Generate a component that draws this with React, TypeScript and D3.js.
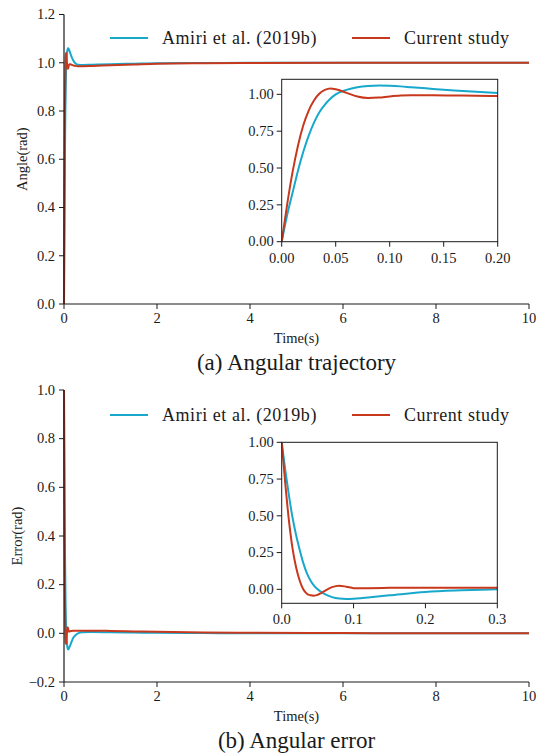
import React from 'react';
import * as d3 from 'd3';

// time grid for the angle response (s)
const timeAngle = [0, 0.005, 0.01, 0.015, 0.02, 0.025, 0.03, 0.035, 0.04, 0.045, 0.05, 0.06, 0.07, 0.08, 0.09, 0.1, 0.11, 0.12, 0.14, 0.16, 0.18, 0.2, 0.25, 0.3, 0.4, 0.6, 1, 1.5, 2, 3, 4, 6, 8, 10];
const amiriAngle = [0, 0.18, 0.33, 0.48, 0.61, 0.72, 0.81, 0.88, 0.93, 0.97, 1.0, 1.03, 1.048, 1.057, 1.06, 1.058, 1.054, 1.048, 1.037, 1.026, 1.017, 1.009, 0.997, 0.992, 0.991, 0.992, 0.994, 0.996, 0.998, 0.999, 1, 1, 1, 1];
const currentAngle = [0, 0.25, 0.47, 0.65, 0.79, 0.89, 0.96, 1.005, 1.03, 1.04, 1.035, 1.01, 0.985, 0.975, 0.978, 0.986, 0.992, 0.994, 0.994, 0.992, 0.99, 0.989, 0.987, 0.986, 0.986, 0.987, 0.99, 0.993, 0.996, 0.998, 0.999, 1, 1, 1];

// time grid for the error response (s)
const timeError = [0, 0.005, 0.01, 0.015, 0.02, 0.025, 0.03, 0.035, 0.04, 0.045, 0.05, 0.055, 0.06, 0.07, 0.08, 0.09, 0.1, 0.11, 0.12, 0.15, 0.2, 0.25, 0.3, 0.4, 0.6, 1, 1.5, 2, 3, 4, 6, 8, 10];
const amiriError = [1, 0.81, 0.64, 0.49, 0.37, 0.27, 0.18, 0.11, 0.06, 0.025, 0.0, -0.018, -0.033, -0.053, -0.063, -0.066, -0.064, -0.06, -0.055, -0.041, -0.018, -0.007, 0.0, 0.004, 0.005, 0.004, 0.003, 0.002, 0.001, 0, 0, 0, 0];
const currentError = [1, 0.72, 0.47, 0.28, 0.15, 0.06, 0.0, -0.03, -0.04, -0.043, -0.038, -0.025, -0.01, 0.015, 0.025, 0.018, 0.008, 0.007, 0.008, 0.01, 0.011, 0.011, 0.011, 0.011, 0.011, 0.01, 0.008, 0.006, 0.003, 0.002, 0.001, 0, 0];

const seriesNames = ['Amiri et al. (2019b)', 'Current study'];
const colors = ['#17a8cc', '#c8381c'];

const mainXTicks = [0, 2, 4, 6, 8, 10];
const angleYTicks = [0, 0.2, 0.4, 0.6, 0.8, 1.0, 1.2];
const errorYTicks = [-0.2, 0, 0.2, 0.4, 0.6, 0.8, 1.0];
const insetYTicks = [0, 0.25, 0.5, 0.75, 1.0];
const angleInsetXTicks = [0, 0.05, 0.1, 0.15, 0.2];
const errorInsetXTicks = [0, 0.1, 0.2, 0.3];

const font = 'Liberation Serif, DejaVu Serif, serif';
const ink = '#1a1a1a';

function Inset({ id, x0, x1, y0, y1, xDomain, yDomain, xTicks, xFmt, t, series }) {
  const x = d3.scaleLinear().domain(xDomain).range([x0, x1]);
  const y = d3.scaleLinear().domain(yDomain).range([y1, y0]);
  const line = d3.line().x((d) => x(d[0])).y((d) => y(d[1])).curve(d3.curveMonotoneX);
  return (
    <g>
      <clipPath id={id}>
        <rect x={x0} y={y0} width={x1 - x0} height={y1 - y0} />
      </clipPath>
      <g clipPath={`url(#${id})`}>
        {series.map((vals, i) => (
          <path key={i} d={line(t.map((tt, k) => [tt, vals[k]]))} fill="none" stroke={colors[i]} strokeWidth={2} />
        ))}
      </g>
      <rect x={x0} y={y0} width={x1 - x0} height={y1 - y0} fill="none" stroke={ink} strokeWidth={1} />
      {insetYTicks.map((v) => (
        <g key={v}>
          <line x1={x0 - 5} x2={x0} y1={y(v)} y2={y(v)} stroke={ink} />
          <text x={x0 - 8} y={y(v)} dy="0.33em" textAnchor="end" fontSize={14.5}>{d3.format('.2f')(v)}</text>
        </g>
      ))}
      {xTicks.map((v) => (
        <g key={v}>
          <line x1={x(v)} x2={x(v)} y1={y1} y2={y1 + 5} stroke={ink} />
          <text x={x(v)} y={y1 + 21} textAnchor="middle" fontSize={14.5}>{d3.format(xFmt)(v)}</text>
        </g>
      ))}
    </g>
  );
}

function Panel({ top, bottom, yDomain, yTicks, ylabel, ylabelX, caption, t, series, legendY, inset }) {
  const x = d3.scaleLinear().domain([0, 10]).range([64, 529]);
  const y = d3.scaleLinear().domain(yDomain).range([bottom, top]);
  const line = d3.line().x((d) => x(d[0])).y((d) => y(d[1])).curve(d3.curveMonotoneX);
  return (
    <g>
      {series.map((vals, i) => (
        <path key={i} d={line(t.map((tt, k) => [tt, vals[k]]))} fill="none" stroke={colors[i]} strokeWidth={2} />
      ))}
      <line x1={64} x2={64} y1={top} y2={bottom} stroke={ink} strokeWidth={1.2} />
      <line x1={64} x2={529} y1={bottom} y2={bottom} stroke={ink} strokeWidth={1.2} />
      {yTicks.map((v) => (
        <g key={v}>
          <line x1={59} x2={64} y1={y(v)} y2={y(v)} stroke={ink} />
          <text x={55} y={y(v)} dy="0.33em" textAnchor="end" fontSize={14.5}>{d3.format('.1f')(v)}</text>
        </g>
      ))}
      {mainXTicks.map((v) => (
        <g key={v}>
          <line x1={x(v)} x2={x(v)} y1={bottom} y2={bottom + 5} stroke={ink} />
          <text x={x(v)} y={bottom + 19} textAnchor="middle" fontSize={14.5}>{v}</text>
        </g>
      ))}
      <text x={296.5} y={bottom + 39} textAnchor="middle" fontSize={14.5}>Time(s)</text>
      <text x={296.5} y={bottom + 66} textAnchor="middle" fontSize={23}>{caption}</text>
      <text transform={`translate(${ylabelX},${(top + bottom) / 2}) rotate(-90)`} textAnchor="middle" fontSize={14.5}>{ylabel}</text>
      {seriesNames.map((name, i) => {
        const lx = i === 0 ? 110 : 352;
        return (
          <g key={name}>
            <line x1={lx} x2={lx + 38} y1={legendY} y2={legendY} stroke={colors[i]} strokeWidth={2} />
            <text x={lx + 52} y={legendY + 5.5} fontSize={18} letterSpacing={0.55}>{name}</text>
          </g>
        );
      })}
      {inset}
    </g>
  );
}

export default function App() {
  return (
    <svg width={542} height={755} style={{ position: 'absolute', left: 0, top: 0, background: '#fff', fontFamily: font }} fill={ink}>
      <Panel
        top={14.5}
        bottom={304}
        yDomain={[0, 1.2]}
        yTicks={angleYTicks}
        ylabel="Angle(rad)"
        ylabelX={27}
        caption="(a) Angular trajectory"
        t={timeAngle}
        series={[amiriAngle, currentAngle]}
        legendY={38}
        inset={
          <Inset id="clipA" x0={281.7} x1={497.7} y0={79.3} y1={241.7} xDomain={[0, 0.2]} yDomain={[0, 1.102]}
            xTicks={angleInsetXTicks} xFmt=".2f" t={timeAngle} series={[amiriAngle, currentAngle]} />
        }
      />
      <Panel
        top={390}
        bottom={682}
        yDomain={[-0.2, 1.0]}
        yTicks={errorYTicks}
        ylabel="Error(rad)"
        ylabelX={22}
        caption="(b) Angular error"
        t={timeError}
        series={[amiriError, currentError]}
        legendY={415}
        inset={
          <Inset id="clipB" x0={281.7} x1={497.3} y0={442.3} y1={603.3} xDomain={[0, 0.3]} yDomain={[-0.095, 1.0]}
            xTicks={errorInsetXTicks} xFmt=".1f" t={timeError} series={[amiriError, currentError]} />
        }
      />
    </svg>
  );
}
